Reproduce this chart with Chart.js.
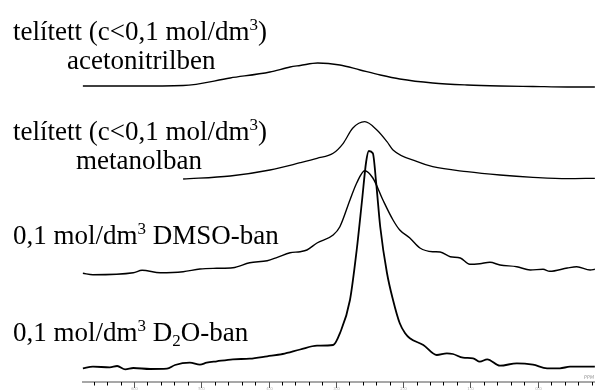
<!DOCTYPE html>
<html>
<head>
<meta charset="utf-8">
<script src="https://cdn.jsdelivr.net/npm/chart.js@4/dist/chart.umd.min.js"></script>
<style>
  html, body { margin: 0; padding: 0; background: #fff; }
  #wrap { width: 595px; height: 390px; }
</style>
</head>
<body>
<div id="wrap"><canvas id="nmr" width="595" height="390"></canvas></div>
<script>
/* ---- data: chemical shift (ppm) and intensity above each trace's baseline ---- */
const acnShift = [6.76, 6.01, 5.27, 4.57, 3.98, 3.68, 3.53, 3.27, 2.94, 2.64, 2.34, 2.05, 1.56, 1.05, 0.56, 0.07, -0.44, -0.85];
const acnInt   = [0, 0, 0.5, 8, 14, 19, 20.5, 23, 21, 16, 11, 7, 3, 1, 0, -0.5, -1, -1];

const meohShift = [5.27, 4.57, 3.98, 3.53, 3.28, 3.04, 2.89, 2.75, 2.57, 2.39, 2.24, 2.15, 1.79, 1.56, 1.05, 0.56, 0.07, -0.44, -0.85];
const meohInt   = [-1, 2, 8, 15.3, 19.7, 24.7, 34.7, 49.7, 56.3, 48, 36.3, 28, 16.3, 11.3, 6.3, 3, 0.7, -0.7, -0.3];

const dmsoShift = [6.76, 6.61, 6.01, 5.88, 5.61, 5.27, 5.02, 4.77, 4.53, 4.28, 4.02, 3.87, 3.68, 3.53, 3.43, 3.28, 3.04, 2.94, 2.79, 2.69, 2.57, 2.45, 2.30, 2.15, 2.05, 1.90, 1.75, 1.56, 1.45, 1.30, 1.15, 1.01, 0.86, 0.71, 0.56, 0.31, 0.11, -0.08, -0.18, -0.44, -0.58, -0.78, -0.85];
const dmsoInt   = [-1.3, -2.7, -0.7, 1.7, -0.7, 0.3, 3, 3.7, 4.3, 9.3, 11.3, 14.7, 19.3, 20.3, 22, 29, 37, 45.3, 72, 89, 101.3, 94, 72, 52, 42, 34, 24, 20.3, 20, 15.3, 14, 7.7, 8.3, 9.7, 7, 5.3, 2, 2.7, 0.7, 4, 5.3, 2, 2.7];

const d2oShift = [6.76, 6.61, 6.36, 6.25, 6.13, 6.01, 5.76, 5.51, 5.39, 5.17, 5.02, 4.92, 4.77, 4.53, 4.28, 4.02, 3.79, 3.53, 3.28, 3.04, 2.94, 2.79, 2.69, 2.61, 2.55, 2.51, 2.45, 2.40, 2.34, 2.24, 2.15, 2.05, 1.97, 1.90, 1.70, 1.50, 1.35, 1.26, 1.11, 0.96, 0.86, 0.75, 0.56, 0.31, 0.07, -0.14, -0.33, -0.48, -0.67, -0.85];
const d2oInt   = [-1.3, 0.3, -0.3, 1, -2.3, -1, -2, -1.7, 2, 4.3, 2.3, 4.3, 5.7, 7.7, 8.3, 10.7, 13, 17.5, 21.3, 22, 33.7, 67, 117, 167, 205, 216, 213.7, 183.7, 140, 94, 67, 43.7, 33.7, 28.7, 22, 12, 13.7, 13, 9.3, 8.7, 5.3, 7.7, 1.3, 3.7, 2.3, -1.3, -1.3, 0.3, 0.3, 0.3];

const shiftMin = -0.852;
const shiftMax = 6.773;

/* ---- trace layout (stack offsets, label text) ---- */
const traceOffsets = [296, 204, 110, 15];
const SERIF = '"Liberation Serif", "Times New Roman", serif';
const FS = 27;

const labelLines = [
    { x: 13, y: 40,  parts: [['telített (c<0,1 mol/dm'], ['3', 'sup'], [')']] },
    { x: 67, y: 69,  parts: [['acetonitrilben']] },
    { x: 13, y: 140, parts: [['telített (c<0,1 mol/dm'], ['3', 'sup'], [')']] },
    { x: 76, y: 169, parts: [['metanolban']] },
    { x: 13, y: 244, parts: [['0,1 mol/dm'], ['3', 'sup'], [' DMSO-ban']] },
    { x: 13, y: 341, parts: [['0,1 mol/dm'], ['3', 'sup'], [' D'], ['2', 'sub'], ['O-ban']] }
];

function zip(xs, ys, off) {
    return xs.map((x, i) => ({ x: x, y: ys[i] + off }));
}

function trace(xs, ys, off, width) {
    return {
        data: zip(xs, ys, off),
        borderColor: '#000',
        borderWidth: width,
        pointRadius: 0,
        fill: false,
        cubicInterpolationMode: 'monotone'
    };
}

/** Draws the serif trace labels with real super/subscripts. */
const labelPlugin = {
    id: 'labels',
    afterDraw(chart) {
        const ctx = chart.ctx;
        ctx.save();
        ctx.fillStyle = '#000';
        ctx.textBaseline = 'alphabetic';
        labelLines.forEach(line => {
            let x = line.x;
            line.parts.forEach(([t, kind]) => {
                let dy = 0, size = FS;
                if (kind === 'sup') { size = Math.round(FS * 0.62); dy = -FS * 0.38; }
                if (kind === 'sub') { size = Math.round(FS * 0.62); dy = FS * 0.18; }
                ctx.font = size + 'px ' + SERIF;
                ctx.fillText(t, x, line.y + dy);
                x += ctx.measureText(t).width;
            });
        });
        ctx.restore();
    }
};

/** ppm axis at the bottom: grey rule, long ticks every 1 ppm, short every 0.2. */
const axisPlugin = {
    id: 'ppmAxis',
    afterDatasetsDraw(chart) {
        const ctx = chart.ctx;
        const xs = chart.scales.x;
        const area = chart.chartArea;
        const y0 = area.bottom;
        ctx.save();
        ctx.strokeStyle = '#8a8a8a';
        ctx.lineWidth = 1.5;
        ctx.beginPath();
        ctx.moveTo(area.left, y0);
        ctx.lineTo(area.right, y0);
        ctx.stroke();

        ctx.lineWidth = 1;
        for (let i = Math.floor(shiftMax / 0.2); i >= Math.ceil(shiftMin / 0.2); i--) {
            const v = i * 0.2;
            const px = Math.round(xs.getPixelForValue(v)) + 0.5;
            const major = i % 5 === 0;
            ctx.strokeStyle = major ? '#555' : '#000';
            ctx.beginPath();
            ctx.moveTo(px, y0);
            ctx.lineTo(px, y0 + (major ? 6 : 3.5));
            ctx.stroke();
            if (major) {
                ctx.fillStyle = '#b0b0b0';
                ctx.font = '4px "DejaVu Sans", sans-serif';
                ctx.textAlign = 'center';
                ctx.fillText(v.toFixed(1), px, y0 + 8);
            }
        }
        ctx.fillStyle = '#9a9a9a';
        ctx.font = 'italic 5px "DejaVu Sans", sans-serif';
        ctx.textAlign = 'right';
        ctx.fillText('PPM', area.right - 1, y0 - 3);
        ctx.restore();
    }
};

new Chart(document.getElementById('nmr'), {
    type: 'line',
    data: {
        datasets: [
            trace(acnShift, acnInt, traceOffsets[0], 1.3),
            trace(meohShift, meohInt, traceOffsets[1], 1.3),
            trace(dmsoShift, dmsoInt, traceOffsets[2], 1.4),
            trace(d2oShift, d2oInt, traceOffsets[3], 1.8)
        ]
    },
    options: {
        responsive: false,
        animation: false,
        devicePixelRatio: 1,
        layout: { padding: { left: 82, right: 0, top: 0, bottom: 8 } },
        plugins: { legend: { display: false }, tooltip: { enabled: false } },
        scales: {
            x: { type: 'linear', min: shiftMin, max: shiftMax, reverse: true, display: false },
            y: { min: 0, max: 382, display: false }
        }
    },
    plugins: [labelPlugin, axisPlugin]
});
</script>
</body>
</html>
